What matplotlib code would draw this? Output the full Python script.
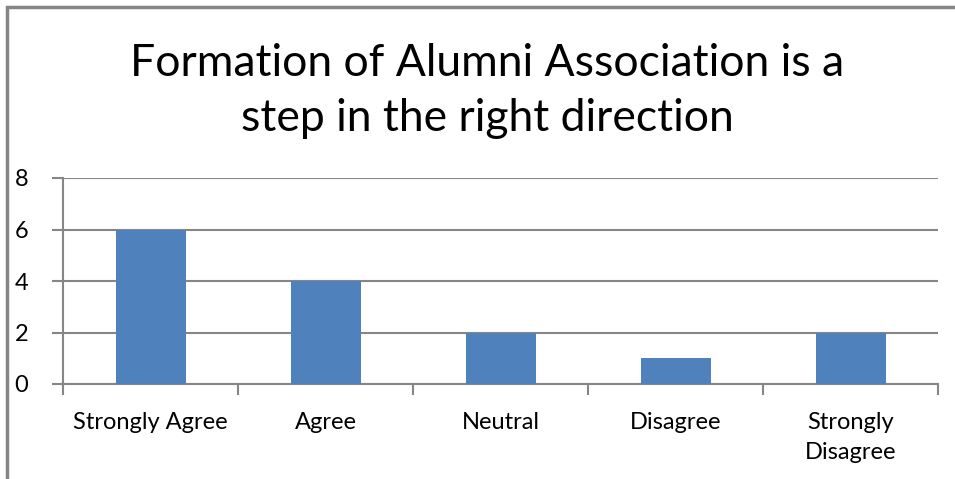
import matplotlib.pyplot as plt
from matplotlib.patches import Rectangle

categories = ["Strongly Agree", "Agree", "Neutral", "Disagree", "Strongly\nDisagree"]
values = [6, 4, 2, 1, 2]
yticks = [0, 2, 4, 6, 8]

plt.rcParams['font.family'] = ['Lato', 'DejaVu Sans']

fig = plt.figure(figsize=(9.55, 4.79), dpi=100)
ax = fig.add_axes([63 / 955, 1 - 384 / 479, (938 - 63) / 955, (384 - 178) / 479])

x = list(range(len(categories)))
ax.bar(x, values, width=0.4, color='#4F81BD', zorder=3)

ax.set_xlim(-0.5, len(categories) - 0.5)
ax.set_ylim(0, 8)
ax.set_yticks(yticks)
ax.set_yticklabels([str(v) for v in yticks], fontsize=17)
ax.grid(axis='y', color='#868686', lw=1.5, zorder=0)

# category labels centred, ticks on category boundaries
ax.set_xticks(x)
ax.set_xticklabels(categories, fontsize=17, linespacing=1.55, va='top')
ax.tick_params(axis='x', length=0, pad=20)
ax.set_xticks([i - 0.5 for i in range(len(categories) + 1)], minor=True)
ax.tick_params(axis='x', which='minor', length=8, width=1.5, color='#868686')
ax.tick_params(axis='y', length=8, width=1.5, color='#868686', pad=17)

for s in ['top', 'right']:
    ax.spines[s].set_visible(False)
for s in ['left', 'bottom']:
    ax.spines[s].set_color('#868686')
    ax.spines[s].set_linewidth(1.5)

fig.text(487 / 955, 1 - 91 / 479, "Formation of Alumni Association is a\nstep in the right direction",
         ha='center', va='center', fontsize=32, linespacing=1.45)

# outer chart border (left and top only visible)
fig.patches.append(Rectangle((7 / 955, -0.1), 1.2, 1 - 7 / 479 + 0.1, transform=fig.transFigure,
                             fill=False, edgecolor='#868686', lw=2.5))

fig.savefig('out.png', dpi=100)
